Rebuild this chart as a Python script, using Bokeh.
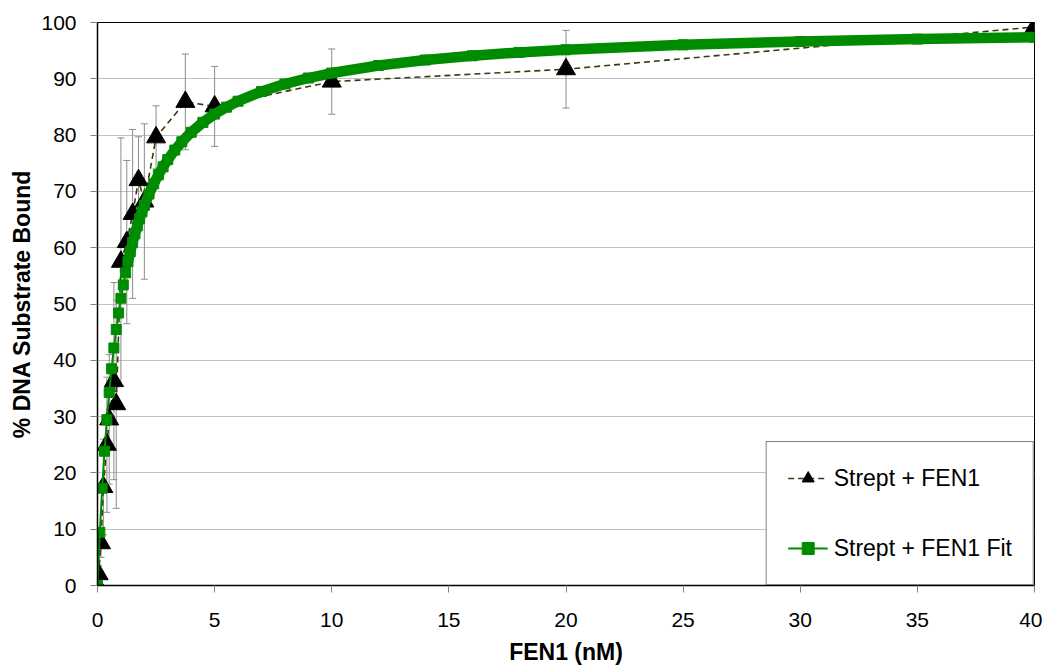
from bokeh.plotting import figure
from bokeh.models import (Range1d, Whisker, TeeHead, ColumnDataSource, Legend,
                          LegendItem, FixedTicker)
from bokeh.embed import file_html
from bokeh.resources import INLINE

# ---- data ----
conc = [0, 0.05, 0.15, 0.25, 0.4, 0.5, 0.7, 0.8, 1.0, 1.25, 1.5, 1.75, 2.0,
        2.5, 3.75, 5, 10, 20, 40]
bound = [0, 2, 7.5, 17.5, 25, 29.5, 36.3, 32.2, 57.5, 61, 66, 72, 68.2,
         79.6, 85.9, 85.1, 89.5, 91.7, 99.2]
sd = [0.5, 1.5, 2.5, 8.5, 12, 11.5, 17.5, 18.5, 22, 14.5, 15, 7.7, 13.8,
      5.6, 8.5, 7.1, 5.8, 6.9, 0.5]

fit_conc = [0, 0.1, 0.2, 0.3, 0.4, 0.5, 0.6, 0.7, 0.8, 0.9, 1.0, 1.1, 1.2,
            1.3, 1.4, 1.5, 1.6, 1.7, 1.8, 1.9, 2.0, 2.2, 2.4, 2.6, 2.8, 3.0,
            3.3, 3.6, 4.0, 4.5, 5, 5.5, 6, 7, 8, 9, 10, 12, 14, 16, 18, 20,
            25, 30, 35, 40]
fit_bound = [0, 9.46, 17.28, 23.85, 29.45, 34.28, 38.49, 42.19, 45.47, 48.40,
             51.02, 53.39, 55.54, 57.50, 59.29, 60.94, 62.46, 63.86, 65.16,
             66.37, 67.50, 69.54, 71.34, 72.94, 74.36, 75.65, 77.34, 78.81,
             80.50, 82.26, 83.73, 84.96, 86.02, 87.74, 89.08, 90.14, 91.02,
             92.36, 93.34, 94.09, 94.68, 95.16, 96.03, 96.63, 97.05, 97.38]

x_ticks = [0, 5, 10, 15, 20, 25, 30, 35, 40]
y_ticks = [0, 10, 20, 30, 40, 50, 60, 70, 80, 90, 100]

series_label = "Strept + FEN1"
fit_label = "Strept + FEN1 Fit"
x_title = "FEN1 (nM)"
y_title = "% DNA Substrate Bound"

FONT = "Liberation Sans"
GREEN = "#008c00"

p = figure(width=1042, height=667, output_backend="svg", toolbar_location=None,
           x_range=Range1d(0, 40), y_range=Range1d(0, 100),
           min_border_left=97, min_border_right=8, min_border_top=22,
           min_border_bottom=82)
p.background_fill_color = "white"
p.border_fill_color = "white"
p.outline_line_color = "black"
p.outline_line_width = 1

p.xgrid.visible = False
p.ygrid.grid_line_color = "#c0c0c0"
p.ygrid.grid_line_width = 1

p.xaxis.ticker = FixedTicker(ticks=x_ticks)
p.yaxis.ticker = FixedTicker(ticks=y_ticks)
for ax in (p.xaxis, p.yaxis):
    ax.axis_line_color = "black"
    ax.axis_line_width = 1.5
    ax.major_tick_in = 0
    ax.major_tick_out = 7
    ax.major_tick_line_color = "#808080"
    ax.minor_tick_line_color = None
    ax.major_label_text_font = FONT
    ax.major_label_text_font_size = "21px"
    ax.major_label_text_color = "black"
    ax.axis_label_text_font = FONT
    ax.axis_label_text_font_size = "23px"
    ax.axis_label_text_font_style = "bold"
    ax.axis_label_text_color = "black"
p.xaxis.axis_label = x_title
p.yaxis.axis_label = y_title
p.xaxis.major_label_standoff = 20
p.xaxis.axis_label_standoff = 9
p.yaxis.major_label_standoff = 14
p.yaxis.axis_label_standoff = 3

src = ColumnDataSource(data=dict(
    x=conc, y=bound,
    upper=[b + s for b, s in zip(bound, sd)],
    lower=[b - s for b, s in zip(bound, sd)]))
fit_src = ColumnDataSource(data=dict(x=fit_conc, y=fit_bound))
band_src = ColumnDataSource(data=dict(x=fit_conc[13:], y=fit_bound[13:]))

whisk = Whisker(source=src, base="x", upper="upper", lower="lower",
                line_color="#8c8c8c", line_width=1, level="underlay",
                upper_head=TeeHead(size=7, line_color="#8c8c8c", line_width=1),
                lower_head=TeeHead(size=7, line_color="#8c8c8c", line_width=1))
p.add_layout(whisk)

r_dash = p.line("x", "y", source=src, line_color="#3a3a10", line_width=1.6,
                line_dash="6 4")
r_tri = p.scatter("x", "y", source=src, marker="triangle", size=19,
                  fill_color="black", line_color="black")

r_fitline = p.line("x", "y", source=fit_src, line_color=GREEN, line_width=2)
p.line("x", "y", source=band_src, line_color=GREEN, line_width=10.5)
r_sq = p.scatter("x", "y", source=fit_src, marker="square", size=10,
                 fill_color=GREEN, line_color=GREEN)

legend = Legend(items=[LegendItem(label=series_label, renderers=[r_dash, r_tri]),
                       LegendItem(label=fit_label, renderers=[r_fitline, r_sq])],
                location="bottom_right")
legend.margin = 0
legend.padding = 21
legend.spacing = 40
legend.glyph_height = 30
legend.glyph_width = 40
legend.label_height = 30
legend.label_standoff = 6
legend.label_text_font = FONT
legend.label_text_font_size = "23px"
legend.label_text_color = "black"
legend.border_line_color = "black"
legend.border_line_width = 1
legend.background_fill_color = "white"
legend.background_fill_alpha = 1
p.add_layout(legend)

open("out.html", "w").write(file_html(p, INLINE))
